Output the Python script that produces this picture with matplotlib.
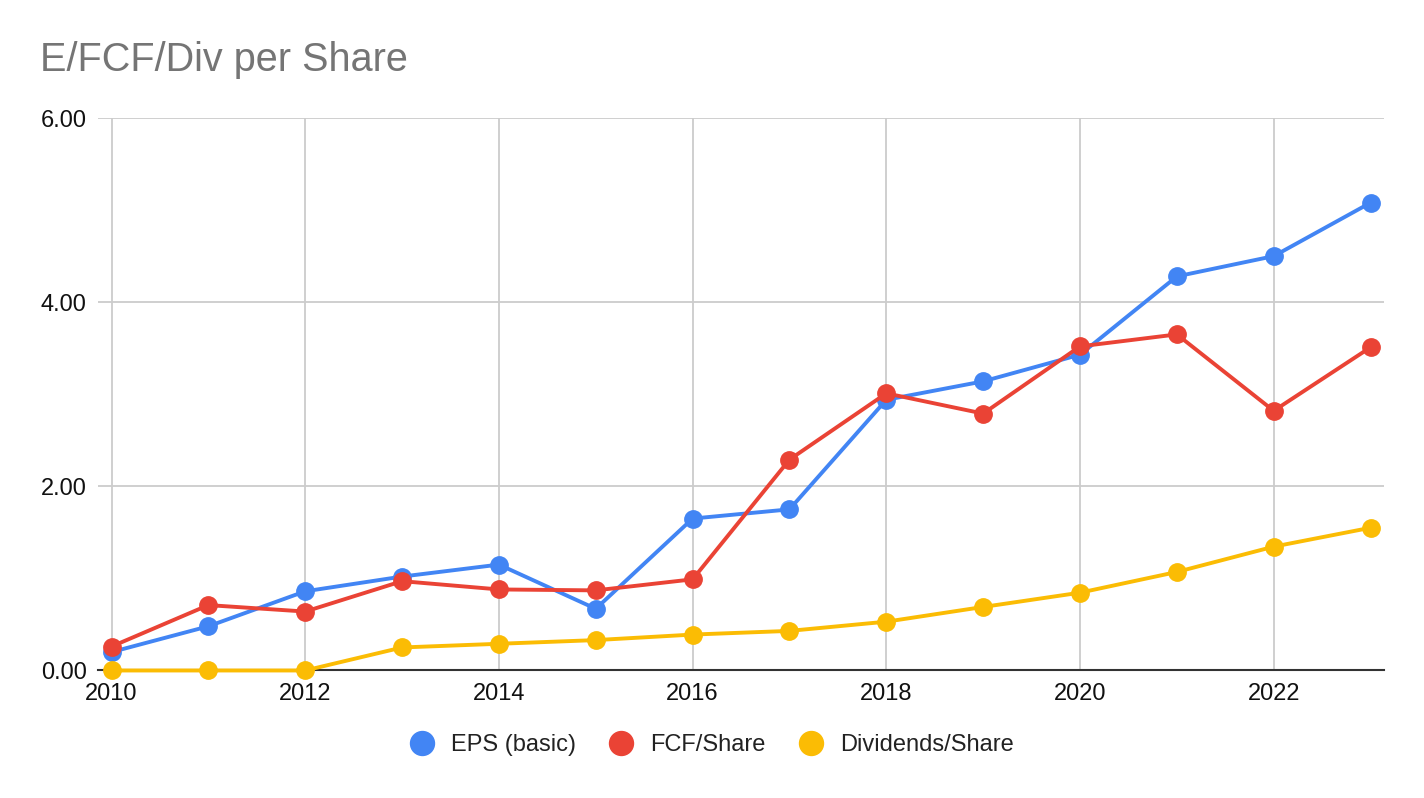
import matplotlib.pyplot as plt

years = list(range(2010, 2024))
eps_basic = [0.20, 0.48, 0.86, 1.02, 1.15, 0.67, 1.65, 1.75, 2.94, 3.14, 3.43, 4.28, 4.50, 5.08]
fcf_share = [0.26, 0.71, 0.64, 0.97, 0.88, 0.87, 0.99, 2.29, 3.01, 2.79, 3.52, 3.65, 2.82, 3.51]
div_share = [0.0, 0.0, 0.0, 0.25, 0.29, 0.33, 0.39, 0.43, 0.53, 0.69, 0.845, 1.07, 1.345, 1.55]

series = [
    ("EPS (basic)", eps_basic, "#4285F4"),
    ("FCF/Share", fcf_share, "#EA4335"),
    ("Dividends/Share", div_share, "#FBBC04"),
]

plt.rcParams['font.family'] = ['Liberation Sans', 'DejaVu Sans']

fig = plt.figure(figsize=(14.24, 7.98), dpi=100)
ax = fig.add_axes([0.0688, 0.1598, 0.9032, 0.6923])

for name, vals, color in series:
    ax.plot(years, vals, color=color, linewidth=2.8, marker='o',
            markersize=12.5, label=name, clip_on=False, zorder=3)

ax.set_xlim(2009.86, 2023.14)
ax.set_ylim(0, 6)
ax.set_xticks(range(2010, 2023, 2))
ax.set_yticks([0, 2, 4, 6])
ax.set_yticklabels([f"{v:.2f}" for v in [0, 2, 4, 6]])
ax.grid(True, color="#cccccc", linewidth=1.3)
ax.set_axisbelow(True)
for s in ["top", "right", "left"]:
    ax.spines[s].set_visible(False)
ax.spines["bottom"].set_color("#333333")
ax.spines["bottom"].set_linewidth(1.5)
ax.tick_params(axis='both', length=0, labelsize=17, colors="#111111")
ax.tick_params(axis='x', pad=9)
ax.tick_params(axis='y', pad=8)

fig.text(0.028, 0.925, "E/FCF/Div per Share", fontsize=28.5, color="#757575",
         ha='left', va='center')

leg = fig.legend(loc='center', bbox_to_anchor=(0.5, 0.066), ncol=3, frameon=False,
                 fontsize=17, handlelength=1.0, handletextpad=0.73, columnspacing=1.4,
                 markerscale=1.38)
for h in leg.legend_handles:
    h.set_linestyle('none')
for t in leg.get_texts():
    t.set_color("#222222")

fig.savefig("out.png", dpi=100)
